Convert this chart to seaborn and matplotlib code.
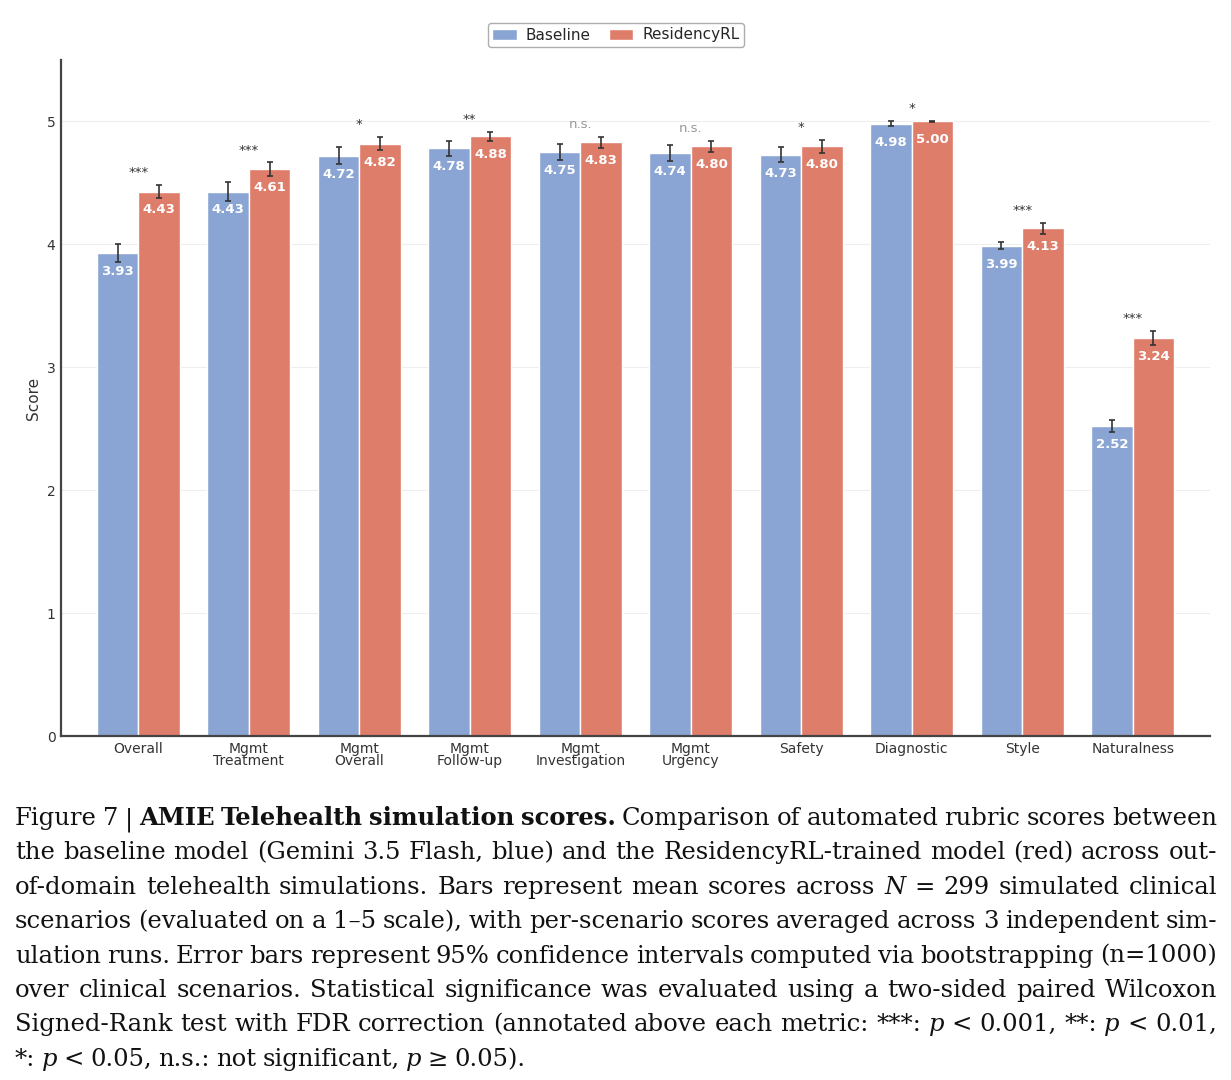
import matplotlib
matplotlib.use("Agg")
import matplotlib.pyplot as plt
import numpy as np
import pandas as pd
import seaborn as sns

# Rubric scores (mean, 95% CI half-width)
METRICS = ["Overall", "Mgmt\nTreatment", "Mgmt\nOverall", "Mgmt\nFollow-up",
           "Mgmt\nInvestigation", "Mgmt\nUrgency", "Safety", "Diagnostic",
           "Style", "Naturalness"]
MODELS = ["Baseline", "ResidencyRL"]
BASELINE = [3.93, 4.43, 4.72, 4.78, 4.75, 4.74, 4.73, 4.98, 3.99, 2.52]
RESIDENCY = [4.43, 4.61, 4.82, 4.88, 4.83, 4.80, 4.80, 5.00, 4.13, 3.24]
BASELINE_CI = [0.073, 0.077, 0.070, 0.065, 0.065, 0.065, 0.060, 0.020, 0.028, 0.050]
RESIDENCY_CI = [0.053, 0.057, 0.053, 0.037, 0.045, 0.045, 0.053, 0.005, 0.045, 0.057]
SIGNIF = ["***", "***", "*", "**", "n.s.", "n.s.", "*", "*", "***", "***"]

COLORS = ["#8aa5d3", "#df7d6b"]

# caption lines: (text, style) chunks, split on spaces when laid out
CAPTION = [
    [("Figure 7 |", "normal"), ("AMIE Telehealth simulation scores.", "bold"),
     ("Comparison of automated rubric scores between", "normal")],
    [("the baseline model (Gemini 3.5 Flash, blue) and the ResidencyRL-trained model (red) across out-", "normal")],
    [("of-domain telehealth simulations. Bars represent mean scores across", "normal"), ("N", "italic"),
     ("= 299 simulated clinical", "normal")],
    [("scenarios (evaluated on a 1\u20135 scale), with per-scenario scores averaged across 3 independent sim-", "normal")],
    [("ulation runs. Error bars represent 95% confidence intervals computed via bootstrapping (n=1000)", "normal")],
    [("over clinical scenarios. Statistical significance was evaluated using a two-sided paired Wilcoxon", "normal")],
    [("Signed-Rank test with FDR correction (annotated above each metric: ***:", "normal"), ("p", "italic"),
     ("< 0.001, **:", "normal"), ("p", "italic"), ("< 0.01,", "normal")],
    [("*:", "normal"), ("p", "italic"), ("< 0.05, n.s.: not significant,", "normal"), ("p", "italic"),
     ("\u2265 0.05).", "normal")],
]

W, H = 1231, 1080

sns.set_theme(style="white")
plt.rcParams["font.family"] = ["DejaVu Sans"]

df = pd.DataFrame({
    "metric": METRICS * 2,
    "model": [MODELS[0]] * len(METRICS) + [MODELS[1]] * len(METRICS),
    "score": BASELINE + RESIDENCY,
})

fig = plt.figure(figsize=(W / 100, H / 100), dpi=100)
ax = fig.add_axes([61 / W, 1 - 736 / H, (1210 - 61) / W, (736 - 60) / H])

sns.barplot(data=df, x="metric", y="score", hue="model", palette=COLORS,
            width=0.75, edgecolor="white", linewidth=1.0, saturation=1,
            errorbar=None, ax=ax, zorder=2)

ax.set_ylim(0, 5.5)
ax.set_xlim(-0.7, len(METRICS) - 0.3)
ax.set_yticks(range(6))
ax.yaxis.grid(True, color="#eeeeee", linewidth=0.8, zorder=0)
ax.set_axisbelow(True)
for side in ["top", "right"]:
    ax.spines[side].set_visible(False)
for side in ["left", "bottom"]:
    ax.spines[side].set_color("#444444")
    ax.spines[side].set_linewidth(1.6)
ax.tick_params(axis="both", length=0, labelsize=10, colors="#333333", pad=4)
for lbl in ax.get_xticklabels():
    lbl.set_linespacing(0.85)
ax.set_xlabel("")
ax.set_ylabel("Score", fontsize=11, color="#333333")

# error bars + value labels on each bar
tops = np.zeros(len(METRICS))
for cont, vals, cis in zip(ax.containers, [BASELINE, RESIDENCY], [BASELINE_CI, RESIDENCY_CI]):
    xs = [b.get_x() + b.get_width() / 2 for b in cont]
    ax.errorbar(xs, vals, yerr=cis, fmt="none", ecolor="#333333",
                elinewidth=1.2, capsize=2.5, capthick=1.2, zorder=3)
    for i, (x, v, c) in enumerate(zip(xs, vals, cis)):
        ax.text(x, v - 0.15, f"{v:.2f}", ha="center", va="center",
                color="white", fontsize=9.5, fontweight="bold", zorder=4)
        tops[i] = max(tops[i], v + c)

for i, s in enumerate(SIGNIF):
    col = "#999999" if s == "n.s." else "#333333"
    ax.text(i, tops[i] + 0.1, s, ha="center", va="center", fontsize=9.5, color=col)

sns.move_legend(ax, "center", bbox_to_anchor=((616 - 61) / 1149, 1 + 25 / 676),
                ncol=2, title=None, frameon=True, fontsize=11,
                handlelength=1.6, handletextpad=0.6, columnspacing=1.2, borderpad=0.3)
leg = ax.get_legend()
leg.get_frame().set_edgecolor("#999999")
leg.get_frame().set_linewidth(1.0)

# caption, justified word by word
renderer = fig.canvas.get_renderer()
x0, x1 = 15, 1217
cap_size = 17.5
cap_family = ["DejaVu Serif"]


def make_words(chunks, size):
    out = []
    for text, style in chunks:
        for w in text.split(" "):
            out.append(fig.text(0, 0, w, fontsize=size, family=cap_family,
                                fontweight="bold" if style == "bold" else "normal",
                                fontstyle="italic" if style == "italic" else "normal",
                                color="#111111", va="baseline", ha="left"))
    return out


# shrink the size if any justified line would not fit with normal spaces
worst = 1.0
for chunks in CAPTION[:-1]:
    tmp = make_words(chunks, cap_size)
    need = sum(t.get_window_extent(renderer).width for t in tmp)
    need += (len(tmp) - 1) * 0.22 * cap_size * 100 / 72
    worst = min(worst, (x1 - x0) / need)
    for t in tmp:
        t.remove()
cap_size *= worst

space_w = 0.26 * cap_size * 100 / 72
for row, chunks in enumerate(CAPTION):
    words = make_words(chunks, cap_size)
    widths = [t.get_window_extent(renderer).width for t in words]
    if row < len(CAPTION) - 1 and len(words) > 1:
        gap = (x1 - x0 - sum(widths)) / (len(words) - 1)
    else:
        gap = space_w
    y = 825 + row * 34.4
    x = x0
    for t, wd in zip(words, widths):
        t.set_position((x / W, 1 - y / H))
        x += wd + gap

fig.savefig("out.png", dpi=100, facecolor="white")
